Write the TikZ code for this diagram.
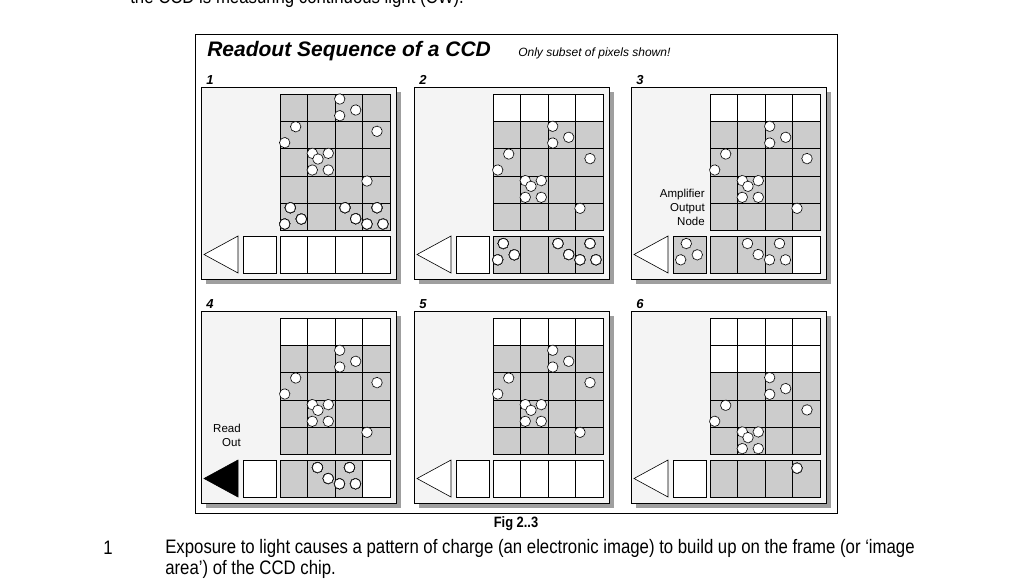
\documentclass[tikz,border=0pt]{standalone}
\usepackage{fontspec}
\setmainfont{Liberation Sans}
\newfontfamily\narrowfont[FakeStretch=0.86]{Liberation Sans}
\usetikzlibrary{positioning,calc}

% one row of charge: row index, x shift, y shift
\newcommand\chargerow[3]{%
  \begin{scope}[shift={(#2,#3)}]
    \ifcase#1
      \foreach \ex/\ey in {59.7/5,75.7/16,59.7/21.7} \node[elec] at (\ex,\ey) {};
    \or
      \foreach \ex/\ey in {15.7/5.4,4.7/21.4,97/10} \node[elec] at (\ex,\ey) {};
    \or
      \foreach \ex/\ey in {32.3/4.7,38/10.4,48.3/4.7,32.3/21.4,48.3/21.4} \node[elec] at (\ex,\ey) {};
    \or
      \foreach \ex/\ey in {87/5.1} \node[elec] at (\ex,\ey) {};
    \or
      \foreach \ex/\ey in {10.3/4.5,21.3/15.8,4.7/20.8} \node[elec] at (\ex,\ey) {};
    \or
      \foreach \ex/\ey in {65/4.5,75.7/15.5,87/20.8,97/4.5,103/20.8} \node[elec] at (\ex,\ey) {};
    \fi
  \end{scope}}

% panel frame, grid (top rows white), register cells
\newcommand\ccdpanel[4]{% name, number, white rows, register fills
  \fill[gray!75] ($(#1)+(5,5)$) rectangle ++(195,192);
  \draw[fill=panelbg] (#1) rectangle ++(195,192);
  \node[num] at ($(#1)+(5,-2)$) {#2};
  \begin{scope}[shift={(#1)}]
    \foreach \r in {0,...,4} \foreach \c in {0,...,3} {
      \pgfmathsetmacro\cf{\r<#3 ? "white" : "cellgray"}
      \draw[fill=\cf] (79+27.5*\c,7+27.3*\r) rectangle ++(27.5,27.3);
    }
    \foreach \cf [count=\c from 0] in {#4}
      \draw[fill=\cf] (79+27.5*\c,149) rectangle ++(27.5,37);
  \end{scope}}

\begin{document}
\begin{tikzpicture}[x=1pt,y=-1pt,
  elec/.style={circle, draw, fill=white, minimum size=10.5pt, inner sep=0pt, line width=0.8pt, dash pattern=on 0.9pt off 0.5pt},
  num/.style={font=\bfseries\itshape\fontsize{13}{13}\selectfont, inner sep=0pt, anchor=south west},
  small/.style={font=\fontsize{11.5}{14}\selectfont, align=right, inner sep=0pt},
  outnode/.style={draw, minimum width=33pt, minimum height=37pt, inner sep=0pt},
  page/.style={font=\narrowfont\fontsize{19.5}{21}\selectfont, inner sep=0pt},
  every path/.style={line width=0.6pt}
  ]
  \definecolor{panelbg}{HTML}{F4F4F4}
  \definecolor{cellgray}{HTML}{CCCCCC}
  \useasboundingbox (0,0) rectangle (1024,588);

  % page text
  \node[page, anchor=base west] (toptext) at (130,4) {the CCD is measuring continuous light (CW).};

  % outer frame and title
  \draw[fill=white, line width=0.8pt] (195,34) rectangle (837,513);
  \node[font=\bfseries\itshape\fontsize{21}{24}\selectfont, anchor=base west, inner sep=0pt] (title) at (207,57) {Readout Sequence of a CCD};
  \node[font=\itshape\fontsize{12}{14}\selectfont, inner sep=0pt, anchor=base west] (note) at (518,57) {Only subset of pixels shown!};

  \coordinate (p1) at (201,87);
  \coordinate (p2) at (414,87);
  \coordinate (p3) at (631,87);
  \coordinate (p4) at (201,311);
  \coordinate (p5) at (414,311);
  \coordinate (p6) at (631,311);

  % 1: exposure
  \ccdpanel{p1}{1}{0}{white,white,white,white}
  \begin{scope}[shift={(p1)}]
    \foreach \r in {0,...,3} \chargerow{\r}{79}{7+27.3*\r}
    \chargerow{4}{79}{116.2} \chargerow{5}{79}{116.2}
    \node[outnode, fill=white] (o1) at (58.5,167.5) {};
    \draw[fill=white] (37,149) -- (3,167.5) -- (37,186) -- cycle;
  \end{scope}

  % 2: rows shifted down
  \ccdpanel{p2}{2}{1}{cellgray,cellgray,cellgray,cellgray}
  \begin{scope}[shift={(p2)}]
    \foreach \r in {0,...,3} \chargerow{\r}{79}{7+27.3*(\r+1)}
    \chargerow{4}{79}{152} \chargerow{5}{79}{152}
    \node[outnode, fill=white] (o2) at (58.5,167.5) {};
    \draw[fill=white] (37,149) -- (3,167.5) -- (37,186) -- cycle;
  \end{scope}

  % 3: register shifted into output node
  \ccdpanel{p3}{3}{1}{cellgray,cellgray,cellgray,white}
  \begin{scope}[shift={(p3)}]
    \foreach \r in {0,...,3} \chargerow{\r}{79}{7+27.3*(\r+1)}
    \node[outnode, fill=cellgray] (o3) at (58.5,167.5) {};
    \chargerow{4}{45}{152} \chargerow{5}{51.5}{152}
    \draw[fill=white] (37,149) -- (3,167.5) -- (37,186) -- cycle;
    \node[small, anchor=north east] (amp) at (74,102) {Amplifier\\Output\\Node};
  \end{scope}

  % 4: read out
  \ccdpanel{p4}{4}{1}{cellgray,cellgray,cellgray,white}
  \begin{scope}[shift={(p4)}]
    \foreach \r in {0,...,3} \chargerow{\r}{79}{7+27.3*(\r+1)}
    \chargerow{5}{51.5}{152}
    \node[outnode, fill=white] (o4) at (58.5,167.5) {};
    \draw[fill=black] (37,149) -- (3,167.5) -- (37,186) -- cycle;
    \node[small, anchor=north east] (read) at (40,113) {Read\\Out};
  \end{scope}

  % 5: register empty
  \ccdpanel{p5}{5}{1}{white,white,white,white}
  \begin{scope}[shift={(p5)}]
    \foreach \r in {0,...,3} \chargerow{\r}{79}{7+27.3*(\r+1)}
    \node[outnode, fill=white] (o5) at (58.5,167.5) {};
    \draw[fill=white] (37,149) -- (3,167.5) -- (37,186) -- cycle;
  \end{scope}

  % 6: next row into register
  \ccdpanel{p6}{6}{2}{cellgray,cellgray,cellgray,cellgray}
  \begin{scope}[shift={(p6)}]
    \foreach \r in {0,...,2} \chargerow{\r}{79}{7+27.3*(\r+2)}
    \chargerow{3}{79}{152}
    \node[outnode, fill=white] (o6) at (58.5,167.5) {};
    \draw[fill=white] (37,149) -- (3,167.5) -- (37,186) -- cycle;
  \end{scope}

  % caption and page text
  \node[font=\narrowfont\bfseries\fontsize{15}{16}\selectfont, inner sep=0pt] (fig) at (516,524) {Fig 2..3};
  \node[page, anchor=base west] (n1) at (103,554) {1};
  \node[page, anchor=north west, align=left] (t1) at (165,539)
    {Exposure to light causes a pattern of charge (an electronic image) to build up on the frame (or ‘image\\area’) of the CCD chip.};
\end{tikzpicture}
\end{document}
